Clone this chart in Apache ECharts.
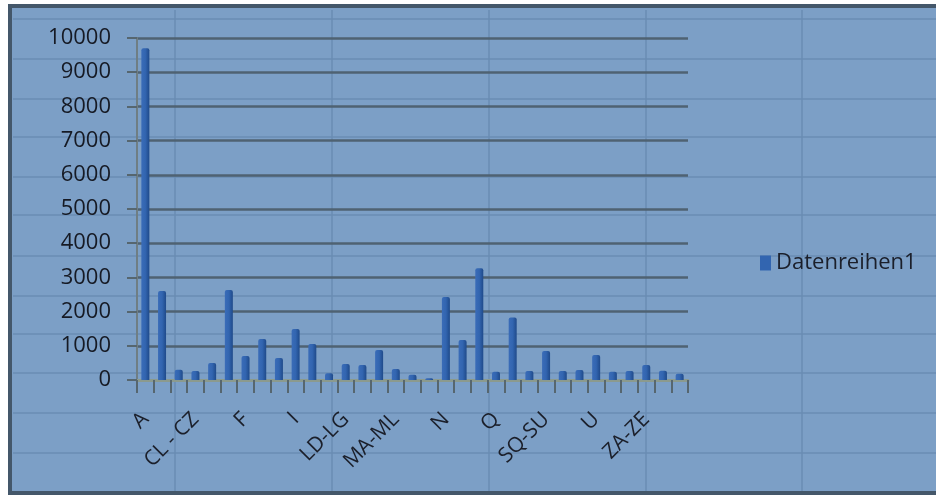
<!DOCTYPE html>
<html>
<head>
<meta charset="utf-8">
<script src="https://cdn.jsdelivr.net/npm/echarts@6/dist/echarts.min.js"></script>
<style>
  html, body { margin: 0; padding: 0; background: #fff; }
  #main { width: 936px; height: 496px; }
</style>
</head>
<body>
<div id="main"></div>
<script>
// Kategorien (nur jede dritte wird beschriftet)
const categories = [
  'A', 'B', 'CA-CK', 'CL - CZ', 'D', 'E', 'F', 'G', 'H', 'I', 'J',
  'K', 'LD-LG', 'LH-LO', 'LP-LZ', 'MA-ML', 'MM-MS', 'MT-MZ', 'N', 'O', 'P',
  'Q', 'R', 'SA-SP', 'SQ-SU', 'SV-SZ', 'T', 'U', 'V', 'W-Y', 'ZA-ZE',
  'ZF-ZK', 'ZL-ZZ'
];

const values = [
  9700, 2600, 300, 260, 500, 2630, 700, 1200, 640, 1490, 1050,
  200, 470, 440, 880, 320, 150, 50, 2430, 1170, 3270,
  240, 1830, 260, 850, 260, 290, 730, 240, 260, 440,
  270, 180
];

const seriesName = 'Datenreihen1';
const yTicks = { min: 0, max: 10000, interval: 1000 };

const chart = echarts.init(document.getElementById('main'));

// Tabellenraster im Hintergrund (Excel-Zellen)
const bgGraphics = [
  { type: 'rect', z: -20, shape: { x: 10, y: 6, width: 940, height: 487 },
    style: { fill: '#7c9fc6', stroke: '#44576a', lineWidth: 4 } }
];
[19, 59, 99, 137, 177, 215, 256, 296, 334, 373, 413, 453].forEach(y => {
  bgGraphics.push({ type: 'line', z: -19, shape: { x1: 13, y1: y, x2: 936, y2: y },
    style: { stroke: '#6a8cb3', lineWidth: 1.5 } });
});
[175, 332, 489, 646, 802].forEach(x => {
  bgGraphics.push({ type: 'line', z: -19, shape: { x1: x, y1: 10, x2: x, y2: 491 },
    style: { stroke: '#6a8cb3', lineWidth: 1.5 } });
});

const option = {
  backgroundColor: '#ffffff',
  animation: false,
  graphic: bgGraphics,
  legend: {
    data: [seriesName],
    left: 755,
    top: 247,
    icon: 'rect',
    itemWidth: 11,
    itemHeight: 15,
    itemGap: 6,
    itemStyle: { color: '#3265b0' },
    textStyle: { fontFamily: 'Open Sans', fontSize: 22, color: '#1b1f2a' }
  },
  grid: {
    left: 137,
    right: 248,
    top: 38,
    bottom: 116
  },
  xAxis: {
    type: 'category',
    data: categories,
    axisLine: { lineStyle: { color: '#8b9a8e', width: 3 } },
    axisTick: { show: true, interval: 0, length: 13, lineStyle: { color: '#56666f', width: 2 } },
    axisLabel: {
      interval: 2,
      rotate: 45,
      margin: 36,
      fontFamily: 'Open Sans',
      fontSize: 21,
      color: '#1b1f2a'
    },
    splitLine: { show: false }
  },
  yAxis: {
    type: 'value',
    min: yTicks.min,
    max: yTicks.max,
    interval: yTicks.interval,
    axisLine: { show: true, lineStyle: { color: '#6f7e84', width: 2 } },
    axisTick: { show: true, length: 10, lineStyle: { color: '#56666f', width: 2 } },
    axisLabel: {
      margin: 26,
      fontFamily: 'Open Sans',
      fontSize: 22,
      color: '#161a24',
      formatter: v => String(v)
    },
    splitLine: { show: true, lineStyle: { color: '#4f6272', width: 2.5 } }
  },
  series: [
    {
      name: seriesName,
      type: 'bar',
      data: values,
      barWidth: 8,
      itemStyle: {
        color: new echarts.graphic.LinearGradient(0, 0, 1, 0, [
          { offset: 0, color: '#3a6cb8' },
          { offset: 0.5, color: '#3265b0' },
          { offset: 1, color: '#1f4a8a' }
        ]),
        borderRadius: [2, 2, 0, 0]
      }
    }
  ]
};

chart.setOption(option);
</script>
</body>
</html>
